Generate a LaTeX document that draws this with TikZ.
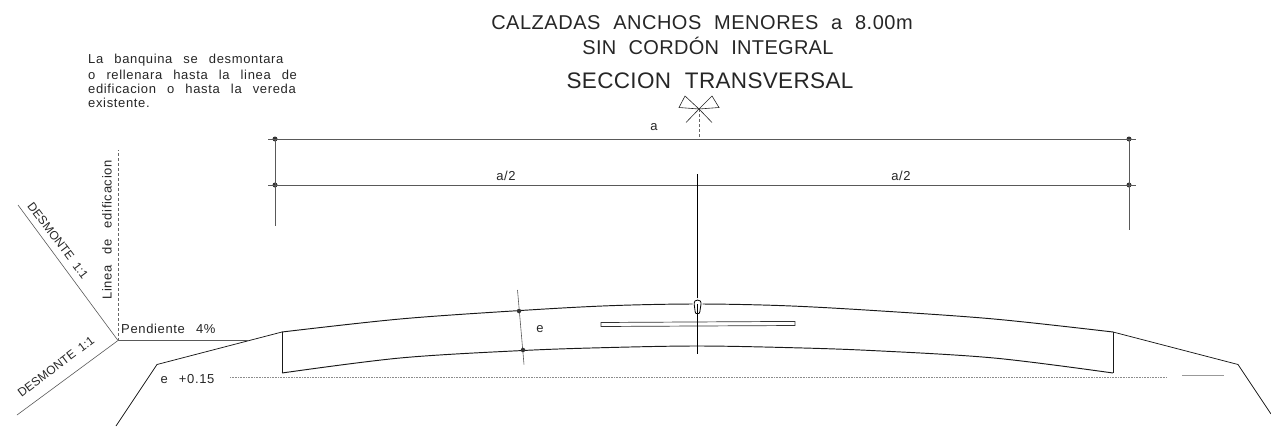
\documentclass[tikz,border=0pt]{standalone}
\usepackage{fontspec}
\setmainfont[LetterSpace=5,WordSpace=2.6]{Liberation Sans}
\newfontface\ttlface[LetterSpace=1.5,WordSpace=2.1]{Liberation Sans}
\newfontface\ttlwface[LetterSpace=2.6,WordSpace=2.1]{Liberation Sans}
\newfontface\dsmface[LetterSpace=1.2,WordSpace=1.8]{Liberation Sans}
\tikzset{
 lab/.style={inner sep=0pt,font=\fontsize{13}{13}\selectfont,text=black!85},
 dsm/.style={inner sep=0pt,font=\dsmface\fontsize{12}{12}\selectfont,text=black!85},
 ttl/.style={inner sep=0pt,font=\ttlface\fontsize{20}{20}\selectfont,text=black!85},
 ttlw/.style={inner sep=0pt,font=\ttlwface\fontsize{20}{20}\selectfont,text=black!85},
 ttlb/.style={inner sep=0pt,font=\ttlface\fontsize{22.5}{22.5}\selectfont,text=black!85},
 road/.style={line width=0.95pt,black!90},
 thin/.style={line width=0.6pt,black!65},
 dimdot/.style={circle,fill=black!80,inner sep=0pt,minimum size=5pt},
 gdash/.style={line width=0.7pt,black!60,densely dashed},
 gdot/.style={line width=0.8pt,black!45,dash pattern=on 1pt off 0.6pt},
}
\begin{document}
\begin{tikzpicture}[x=1pt,y=-1pt]
\useasboundingbox (0,0) rectangle (1271,428);
% titles
\node[ttlw] (t1) at (702,23) {CALZADAS ANCHOS MENORES a 8.00m};
\node[ttl] (t2) at (708,46) {SIN CORDÓN INTEGRAL};
\node[ttlb] (t3) at (710,81) {SECCION TRANSVERSAL};
\node[lab,anchor=west] (n1) at (88,60) {La banquina se desmontara};
\node[lab,anchor=west] (n2) at (88,74.5) {o rellenara hasta la linea de};
\node[lab,anchor=west] (n3) at (88,88.5) {edificacion o hasta la vereda};
\node[lab,anchor=west] (n4) at (88,103) {existente.};
% dimension lines
\coordinate (al) at (268,139); \coordinate (ar) at (1136,139);
\coordinate (bl) at (268,185); \coordinate (br) at (1136,185);
\node[dimdot] (d1) at (275,139) {}; \node[dimdot] (d2) at (1129,139) {};
\node[dimdot] (d3) at (275,185) {}; \node[dimdot] (d4) at (1129,185) {};
\coordinate (v1) at (275,226); \coordinate (v2) at (1129,230);
\draw[thin] (al)--(ar); \draw[thin] (bl)--(br);
\draw[thin] (d1.center)--(v1); \draw[thin] (d2.center)--(v2);
\node[lab] (la) at (654,127) {a};
\node[lab] (la1) at (506,176) {a/2};
\node[lab] (la2) at (901,176) {a/2};
% flags
\coordinate (x) at (699,109); \coordinate (xb) at (699,139);
\draw[gdash] (x)--(xb);
\draw[line width=0.6pt,black!85] (686,122.5)--(x)--(685,96)--(679,107.5)--(x)--(712,122.5);
\draw[line width=0.6pt,black!85] (x)--(712,96)--(719,107.5)--(x);
% road
\draw[road] plot[smooth,tension=0.55] coordinates {(282,332)(400,319)(519,310.6)(610,305.7)(697,304)(784,305.7)(875,310.6)(994,319)(1113,332)};
\draw[road] plot[smooth,tension=0.55] coordinates {(1113,373)(994,358)(871,350.5)(784,347.5)(697,346)(610,347.5)(523,350.5)(400,358)(282,373)};
\coordinate (rtl) at (282,332); \coordinate (rbl) at (282,373);
\coordinate (rtr) at (1113,332); \coordinate (rbr) at (1113,373);
\draw[road] (rtl)--(rbl); \draw[road] (rtr)--(rbr);
\draw[road,line width=0.75pt] (116,426)--(157,364.5)--(rtl);
\draw[road,line width=0.75pt] (rtr)--(1238,364.5)--(1271,414);
% centre line
\coordinate (c1) at (697,174); \coordinate (c4) at (697,354);
\draw[line width=0.7pt,black] (c1)--(c4);
% bar
\draw[line width=0.7pt,black!80,fill=white] (601,322.5)--(795,321.4)--(795,325.5)--(601,326.5)--cycle;
\draw[line width=0.7pt,black] (697,321)--(697,327);
% bubble
\draw[line width=3.5pt,white,fill=white] (695.2,312) .. controls (694.5,306) and (693.5,303) .. (695,301) .. controls (696,299.7) and (699,299.7) .. (700.3,301) .. controls (701.8,303) and (700.5,306) .. (699.8,312) -- (699,313.5) -- (696,313.5) -- cycle;
\draw[line width=0.8pt,fill=white] (695.2,312) .. controls (694.5,306) and (693.5,303) .. (695,301) .. controls (696,299.7) and (699,299.7) .. (700.3,301) .. controls (701.8,303) and (700.5,306) .. (699.8,312) -- (699,313.5) -- (696,313.5) -- cycle;
\coordinate (c5) at (697.5,304); \coordinate (c6) at (697.5,320);
\draw[line width=0.7pt,black] (c5)--(c6);
% thickness mark
\coordinate (e1) at (517.5,290); \coordinate (e2) at (524,364.5);
\draw[thin] (e1)--(e2);
\node[dimdot,minimum size=4.5pt] (e3) at (519,311) {};
\node[dimdot,minimum size=4.5pt] (e4) at (523,350) {};
\node[lab] (le) at (540,328.7) {e};
% level line
\coordinate (h1) at (230,377); \coordinate (h2) at (1167,377);
\draw[gdot] (h1)--(h2);
\coordinate (g1) at (1182,375); \coordinate (g2) at (1224,375);
\draw[line width=0.7pt,black!40] (g1)--(g2);
\node[lab] (le2) at (187.5,379) {e +0.15};
% left side
\coordinate (o) at (118,340.5); \coordinate (p) at (248,340.5);
\coordinate (up) at (118,150); \coordinate (tl) at (18,205); \coordinate (bo) at (17,415);
\draw[thin] (o)--(p);
\draw[gdash] (o)--(up);
\draw[thin] (o)--(tl);
\draw[thin] (o)--(bo);
\node[lab,anchor=west] (lp) at (121,329) {Pendiente 4\%};
\node[lab,rotate=90] (lv) at (107,230) {Linea de edificacion};
\node[dsm,rotate=-53] (ld1) at (58,240.5) {DESMONTE 1:1};
\node[dsm,rotate=37] (ld2) at (56,366.5) {DESMONTE 1:1};
\end{tikzpicture}
\end{document}
